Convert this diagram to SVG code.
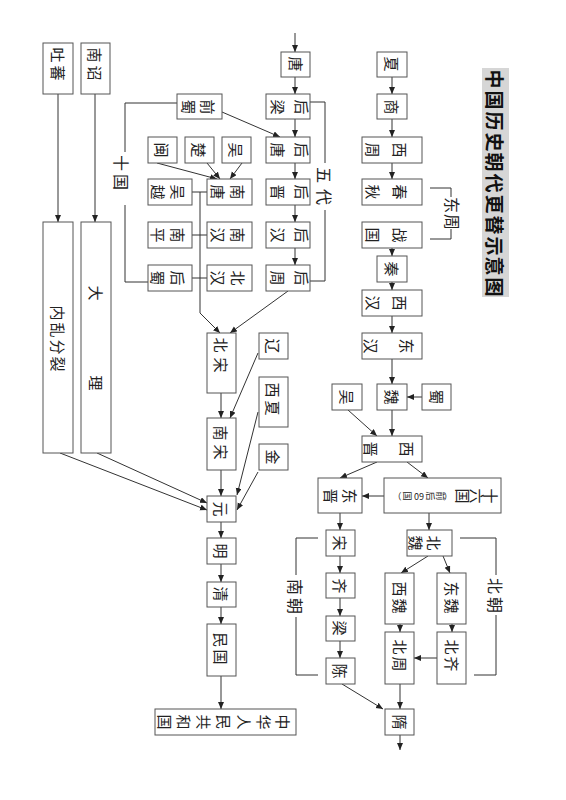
<svg xmlns="http://www.w3.org/2000/svg" width="566" height="800" viewBox="0 0 566 800">
<style>
.b{fill:#fff;stroke:#555;stroke-width:1}
.c line,.c polyline{stroke:#333;stroke-width:1;fill:none}
.c .a{marker-end:url(#ah)}
text{font-family:"Noto Sans CJK SC","Noto Sans",sans-serif;font-size:15px;fill:#222;text-anchor:middle;dominant-baseline:central}
.s{font-size:9px}
.l{font-size:16px}
.ti{font-size:19px;font-weight:700;fill:#111}
</style>
<defs>
<marker id="ah" markerUnits="userSpaceOnUse" markerWidth="8" markerHeight="8" refX="7" refY="3" orient="auto">
<path d="M0,0 L7,3 L0,6 z" fill="#222"/>
</marker>
</defs>
<rect width="566" height="800" fill="#fff"/>

<g id="title">
<rect x="482" y="68" width="27" height="229" fill="#d6d6d6"/>
<text class="ti" transform="translate(495,79) rotate(90)">中</text>
<text class="ti" transform="translate(495,100) rotate(90)">国</text>
<text class="ti" transform="translate(495,121) rotate(90)">历</text>
<text class="ti" transform="translate(495,142) rotate(90)">史</text>
<text class="ti" transform="translate(495,162) rotate(90)">朝</text>
<text class="ti" transform="translate(495,183) rotate(90)">代</text>
<text class="ti" transform="translate(495,204) rotate(90)">更</text>
<text class="ti" transform="translate(495,225) rotate(90)">替</text>
<text class="ti" transform="translate(495,246) rotate(90)">示</text>
<text class="ti" transform="translate(495,266) rotate(90)">意</text>
<text class="ti" transform="translate(495,287) rotate(90)">图</text>
</g>

<g class="c" id="connectors">
<line class="a" x1="295" y1="33" x2="295" y2="52"/>
<line class="a" x1="295" y1="77" x2="295" y2="94"/>
<line class="a" x1="295" y1="119" x2="295" y2="137"/>
<line class="a" x1="295" y1="163" x2="295" y2="179"/>
<line class="a" x1="295" y1="205" x2="295" y2="222"/>
<line class="a" x1="295" y1="248" x2="295" y2="265"/>
<line class="a" x1="222" y1="112" x2="280" y2="137"/>
<line class="a" x1="207" y1="163" x2="220" y2="179"/>
<line class="a" x1="242" y1="163" x2="230" y2="179"/>
<line class="a" x1="157" y1="163" x2="217" y2="179"/>
<line x1="192" y1="192" x2="207" y2="192"/>
<line x1="192" y1="235" x2="207" y2="235"/>
<line x1="192" y1="278" x2="207" y2="278"/>
<polyline class="a" points="200,192 200,313 220,333"/>
<line class="a" x1="288" y1="291" x2="230" y2="333"/>
<line class="a" x1="221" y1="393" x2="221" y2="418"/>
<line class="a" x1="258" y1="353" x2="230" y2="418"/>
<line class="a" x1="221" y1="470" x2="221" y2="496"/>
<line class="a" x1="258" y1="412" x2="237" y2="495"/>
<line class="a" x1="258" y1="472" x2="237" y2="510"/>
<line class="a" x1="97" y1="453" x2="207" y2="503"/>
<line class="a" x1="60" y1="453" x2="207" y2="510"/>
<line class="a" x1="58" y1="94" x2="58" y2="222"/>
<line class="a" x1="95" y1="94" x2="95" y2="222"/>
<line class="a" x1="221" y1="522" x2="221" y2="538"/>
<line class="a" x1="221" y1="564" x2="221" y2="582"/>
<line class="a" x1="221" y1="607" x2="221" y2="624"/>
<line class="a" x1="221" y1="676" x2="221" y2="709"/>
<polyline points="177,103 125,103 125,152"/>
<polyline points="125,205 125,282 148,282"/>
<polyline points="310,102 325,102 325,163"/>
<polyline points="325,210 325,281 310,281"/>
<line class="a" x1="392" y1="77" x2="392" y2="94"/>
<line class="a" x1="392" y1="119" x2="392" y2="137"/>
<line class="a" x1="392" y1="163" x2="392" y2="179"/>
<line class="a" x1="392" y1="248" x2="392" y2="256"/>
<line class="a" x1="392" y1="282" x2="392" y2="290"/>
<line class="a" x1="392" y1="316" x2="392" y2="333"/>
<line class="a" x1="392" y1="359" x2="392" y2="384"/>
<polyline points="430,188 451,188 451,197"/>
<polyline points="451,229 451,239 430,239"/>
<line class="a" x1="422" y1="397" x2="407" y2="397"/>
<line class="a" x1="348" y1="410" x2="377" y2="436"/>
<line class="a" x1="392" y1="410" x2="392" y2="436"/>
<line class="a" x1="377" y1="462" x2="340" y2="478"/>
<line class="a" x1="407" y1="462" x2="428" y2="478"/>
<line class="a" x1="384" y1="496" x2="362" y2="496"/>
<line class="a" x1="340" y1="513" x2="340" y2="530"/>
<line class="a" x1="429" y1="513" x2="429" y2="530"/>
<line class="a" x1="340" y1="556" x2="340" y2="573"/>
<line class="a" x1="340" y1="598" x2="340" y2="616"/>
<line class="a" x1="340" y1="641" x2="340" y2="658"/>
<polyline points="318,538 296,538 296,575"/>
<polyline points="296,617 296,675 318,675"/>
<line class="a" x1="428" y1="556" x2="401" y2="573"/>
<line class="a" x1="443" y1="556" x2="450" y2="573"/>
<line class="a" x1="400" y1="624" x2="400" y2="632"/>
<line class="a" x1="452" y1="624" x2="452" y2="632"/>
<line class="a" x1="437" y1="658" x2="414" y2="658"/>
<polyline points="460,538 496,538 496,575"/>
<polyline points="496,615 496,675 474,675"/>
<line class="a" x1="342" y1="684" x2="383" y2="709"/>
<line class="a" x1="400" y1="684" x2="400" y2="709"/>
<line class="a" x1="400" y1="735" x2="400" y2="750"/>
</g>

<g id="labels">
<text class="l" transform="translate(325,175) rotate(90)">五</text>
<text class="l" transform="translate(325,197) rotate(90)">代</text>
<text class="l" transform="translate(122,163) rotate(90)">十</text>
<text class="l" transform="translate(122,182) rotate(90)">国</text>
<text class="l" transform="translate(453,205) rotate(90)">东</text>
<text class="l" transform="translate(453,222) rotate(90)">周</text>
<text class="l" transform="translate(296,587) rotate(90)">南</text>
<text class="l" transform="translate(296,606) rotate(90)">朝</text>
<text class="l" transform="translate(496,586) rotate(90)">北</text>
<text class="l" transform="translate(496,605) rotate(90)">朝</text>
</g>

<g id="n-tubo"><rect class="b" x="43" y="43" width="30" height="51"/>
<text transform="translate(58,55) rotate(90)">吐</text><text transform="translate(58,73) rotate(90)">蕃</text></g>
<g id="n-nanzhao"><rect class="b" x="81" y="43" width="29" height="51"/>
<text transform="translate(95,55) rotate(90)">南</text><text transform="translate(95,73) rotate(90)">诏</text></g>
<g id="n-neiluan"><rect class="b" x="43" y="222" width="30" height="231"/>
<text transform="translate(58,313) rotate(90)">内</text><text transform="translate(58,330) rotate(90)">乱</text><text transform="translate(58,347) rotate(90)">分</text><text transform="translate(58,364) rotate(90)">裂</text></g>
<g id="n-dali"><rect class="b" x="81" y="222" width="30" height="231"/>
<text transform="translate(96,293) rotate(90)">大</text><text transform="translate(96,383) rotate(90)">理</text></g>

<g id="n-qianshu"><rect class="b" x="177" y="94" width="45" height="25"/>
<text transform="translate(208,107) rotate(90)">前</text><text transform="translate(189,107) rotate(90)">蜀</text></g>
<g id="n-min"><rect class="b" x="148" y="137" width="29" height="26"/>
<text transform="translate(162,150) rotate(90)">闽</text></g>
<g id="n-chu"><rect class="b" x="185" y="137" width="29" height="26"/>
<text transform="translate(199,150) rotate(90)">楚</text></g>
<g id="n-wu10"><rect class="b" x="222" y="137" width="29" height="26"/>
<text transform="translate(236,150) rotate(90)">吴</text></g>
<g id="n-wuyue"><rect class="b" x="148" y="179" width="44" height="26"/>
<text transform="translate(178,192) rotate(90)">吴</text><text transform="translate(158,192) rotate(90)">越</text></g>
<g id="n-nantang"><rect class="b" x="207" y="179" width="45" height="26"/>
<text transform="translate(238,192) rotate(90)">南</text><text transform="translate(218,192) rotate(90)">唐</text></g>
<g id="n-nanping"><rect class="b" x="148" y="222" width="44" height="26"/>
<text transform="translate(178,235) rotate(90)">南</text><text transform="translate(158,235) rotate(90)">平</text></g>
<g id="n-nanhan"><rect class="b" x="207" y="222" width="45" height="26"/>
<text transform="translate(238,235) rotate(90)">南</text><text transform="translate(218,235) rotate(90)">汉</text></g>
<g id="n-houshu"><rect class="b" x="148" y="265" width="44" height="26"/>
<text transform="translate(178,278) rotate(90)">后</text><text transform="translate(158,278) rotate(90)">蜀</text></g>
<g id="n-beihan"><rect class="b" x="207" y="265" width="45" height="26"/>
<text transform="translate(238,278) rotate(90)">北</text><text transform="translate(218,278) rotate(90)">汉</text></g>

<g id="n-tang"><rect class="b" x="281" y="52" width="29" height="25"/>
<text transform="translate(296,64) rotate(90)">唐</text></g>
<g id="n-houliang"><rect class="b" x="266" y="94" width="44" height="25"/>
<text transform="translate(302,107) rotate(90)">后</text><text transform="translate(278,107) rotate(90)">梁</text></g>
<g id="n-houtang"><rect class="b" x="266" y="137" width="44" height="26"/>
<text transform="translate(302,150) rotate(90)">后</text><text transform="translate(278,150) rotate(90)">唐</text></g>
<g id="n-houjin"><rect class="b" x="266" y="179" width="44" height="26"/>
<text transform="translate(302,192) rotate(90)">后</text><text transform="translate(278,192) rotate(90)">晋</text></g>
<g id="n-houhan"><rect class="b" x="266" y="222" width="44" height="26"/>
<text transform="translate(302,235) rotate(90)">后</text><text transform="translate(278,235) rotate(90)">汉</text></g>
<g id="n-houzhou"><rect class="b" x="266" y="265" width="44" height="26"/>
<text transform="translate(302,278) rotate(90)">后</text><text transform="translate(278,278) rotate(90)">周</text></g>

<g id="n-beisong"><rect class="b" x="207" y="333" width="29" height="60"/>
<text transform="translate(221,345) rotate(90)">北</text><text transform="translate(221,365) rotate(90)">宋</text></g>
<g id="n-liao"><rect class="b" x="259" y="333" width="29" height="26"/>
<text transform="translate(273,346) rotate(90)">辽</text></g>
<g id="n-xixia"><rect class="b" x="259" y="377" width="29" height="50"/>
<text transform="translate(273,390) rotate(90)">西</text><text transform="translate(273,408) rotate(90)">夏</text></g>
<g id="n-jin"><rect class="b" x="259" y="444" width="29" height="26"/>
<text transform="translate(273,457) rotate(90)">金</text></g>
<g id="n-nansong"><rect class="b" x="207" y="418" width="29" height="52"/>
<text transform="translate(221,433) rotate(90)">南</text><text transform="translate(221,452) rotate(90)">宋</text></g>
<g id="n-yuan"><rect class="b" x="207" y="496" width="29" height="26"/>
<text transform="translate(221,509) rotate(90)">元</text></g>
<g id="n-ming"><rect class="b" x="207" y="538" width="29" height="26"/>
<text transform="translate(221,551) rotate(90)">明</text></g>
<g id="n-qing"><rect class="b" x="207" y="582" width="29" height="25"/>
<text transform="translate(221,594) rotate(90)">清</text></g>
<g id="n-minguo"><rect class="b" x="207" y="624" width="29" height="52"/>
<text transform="translate(221,640) rotate(90)">民</text><text transform="translate(221,657) rotate(90)">国</text></g>
<g id="n-prc"><rect class="b" x="155" y="709" width="141" height="26"/>
<text transform="translate(283,722) rotate(90)">中</text><text transform="translate(264,722) rotate(90)">华</text><text transform="translate(244,722) rotate(90)">人</text><text transform="translate(224,722) rotate(90)">民</text><text transform="translate(204,722) rotate(90)">共</text><text transform="translate(184,722) rotate(90)">和</text><text transform="translate(165,722) rotate(90)">国</text></g>

<g id="n-xia"><rect class="b" x="377" y="52" width="30" height="25"/>
<text transform="translate(392,64) rotate(90)">夏</text></g>
<g id="n-shang"><rect class="b" x="377" y="94" width="30" height="25"/>
<text transform="translate(392,107) rotate(90)">商</text></g>
<g id="n-xizhou"><rect class="b" x="362" y="137" width="60" height="26"/>
<text transform="translate(400,150) rotate(90)">西</text><text transform="translate(373,150) rotate(90)">周</text></g>
<g id="n-chunqiu"><rect class="b" x="362" y="179" width="60" height="26"/>
<text transform="translate(400,192) rotate(90)">春</text><text transform="translate(373,192) rotate(90)">秋</text></g>
<g id="n-zhanguo"><rect class="b" x="362" y="222" width="60" height="26"/>
<text transform="translate(400,235) rotate(90)">战</text><text transform="translate(373,235) rotate(90)">国</text></g>
<g id="n-qin"><rect class="b" x="377" y="256" width="30" height="26"/>
<text transform="translate(392,269) rotate(90)">秦</text></g>
<g id="n-xihan"><rect class="b" x="362" y="290" width="60" height="26"/>
<text transform="translate(400,303) rotate(90)">西</text><text transform="translate(373,303) rotate(90)">汉</text></g>
<g id="n-donghan"><rect class="b" x="362" y="333" width="60" height="26"/>
<text transform="translate(407,346) rotate(90)">东</text><text transform="translate(371,346) rotate(90)">汉</text></g>
<g id="n-wei"><rect class="b" x="377" y="384" width="30" height="26"/>
<text transform="translate(392,397) rotate(90)">魏</text></g>
<g id="n-wu3"><rect class="b" x="332" y="384" width="30" height="26"/>
<text transform="translate(347,397) rotate(90)">吴</text></g>
<g id="n-shu3"><rect class="b" x="422" y="384" width="29" height="26"/>
<text transform="translate(437,397) rotate(90)">蜀</text></g>
<g id="n-xijin"><rect class="b" x="362" y="436" width="60" height="26"/>
<text transform="translate(407,449) rotate(90)">西</text><text transform="translate(371,449) rotate(90)">晋</text></g>
<g id="n-dongjin"><rect class="b" x="318" y="478" width="44" height="35"/>
<text transform="translate(350,496) rotate(90)">东</text><text transform="translate(331,496) rotate(90)">晋</text></g>
<g id="n-shiliuguo"><rect class="b" x="384" y="478" width="117" height="35"/>
<text transform="translate(491,496) rotate(90)">十</text><text transform="translate(477,496) rotate(90)">六</text><text transform="translate(463,496) rotate(90)">国</text>
<text class="s" transform="translate(448,496) rotate(180)">（</text>
<text class="s" transform="translate(440,496) rotate(90)">前</text>
<text class="s" transform="translate(430,496) rotate(90)">后</text>
<text class="s" transform="translate(419,496) rotate(180)">60</text>
<text class="s" transform="translate(407,496) rotate(90)">国</text>
<text class="s" transform="translate(397,496) rotate(180)">）</text></g>

<g id="n-song"><rect class="b" x="326" y="530" width="29" height="26"/>
<text transform="translate(340,543) rotate(90)">宋</text></g>
<g id="n-qi"><rect class="b" x="326" y="573" width="29" height="25"/>
<text transform="translate(340,586) rotate(90)">齐</text></g>
<g id="n-liang"><rect class="b" x="326" y="616" width="29" height="25"/>
<text transform="translate(340,628) rotate(90)">梁</text></g>
<g id="n-chen"><rect class="b" x="326" y="658" width="29" height="26"/>
<text transform="translate(340,671) rotate(90)">陈</text></g>
<g id="n-beiwei"><rect class="b" x="407" y="530" width="45" height="26"/>
<text transform="translate(434,543) rotate(90)">北</text><text transform="translate(416,543) rotate(90)">魏</text></g>
<g id="n-xiwei"><rect class="b" x="385" y="573" width="29" height="51"/>
<text transform="translate(400,589) rotate(90)">西</text><text transform="translate(400,606) rotate(90)">魏</text></g>
<g id="n-dongwei"><rect class="b" x="437" y="573" width="29" height="51"/>
<text transform="translate(452,589) rotate(90)">东</text><text transform="translate(452,606) rotate(90)">魏</text></g>
<g id="n-beizhou"><rect class="b" x="385" y="632" width="29" height="52"/>
<text transform="translate(400,647) rotate(90)">北</text><text transform="translate(400,664) rotate(90)">周</text></g>
<g id="n-beiqi"><rect class="b" x="437" y="632" width="29" height="52"/>
<text transform="translate(452,647) rotate(90)">北</text><text transform="translate(452,664) rotate(90)">齐</text></g>
<g id="n-sui"><rect class="b" x="385" y="709" width="29" height="26"/>
<text transform="translate(400,722) rotate(90)">隋</text></g>
</svg>
